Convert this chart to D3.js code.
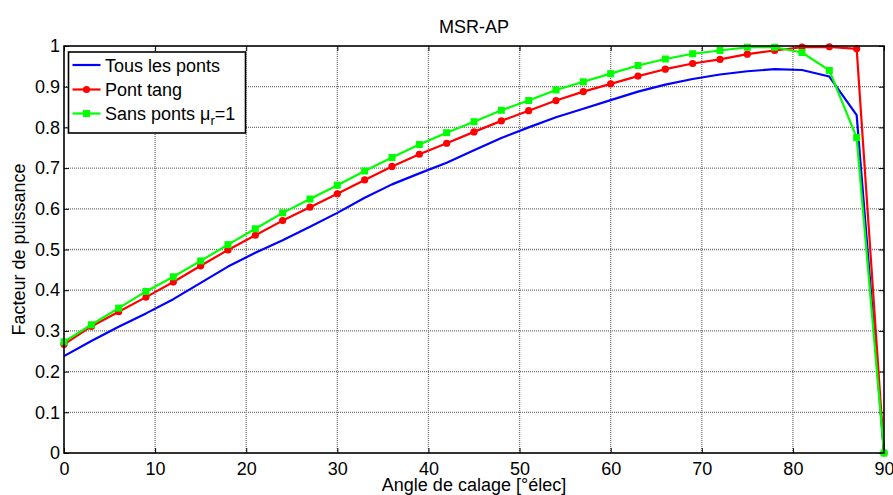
<!DOCTYPE html>
<html><head><meta charset="utf-8">
<script src="https://cdn.jsdelivr.net/npm/d3@7"></script>
<style>body{margin:0;background:#fff}svg{display:block}text{font-family:"Liberation Sans",Arial,sans-serif}</style>
</head><body>
<svg id="c" width="893" height="495"></svg>
<script>
const angles = [0,3,6,9,12,15,18,21,24,27,30,33,36,39,42,45,48,51,54,57,60,63,66,69,72,75,78,81,84,87,90];
const tous = [0.238,0.275,0.310,0.343,0.378,0.418,0.458,0.492,0.523,0.556,0.590,0.627,0.660,0.687,0.713,0.744,0.774,0.800,0.825,0.846,0.867,0.888,0.905,0.919,0.930,0.938,0.943,0.941,0.925,0.830,0.0];
const pontTang = [0.267,0.311,0.347,0.383,0.420,0.460,0.499,0.535,0.571,0.604,0.637,0.671,0.704,0.734,0.761,0.789,0.816,0.841,0.866,0.888,0.907,0.926,0.943,0.957,0.967,0.980,0.989,0.997,0.998,0.993,0.0];
const sansPonts = [0.273,0.315,0.356,0.397,0.433,0.472,0.512,0.551,0.590,0.624,0.658,0.693,0.726,0.758,0.787,0.814,0.842,0.866,0.892,0.912,0.932,0.952,0.968,0.981,0.989,0.997,0.997,0.984,0.940,0.775,0.0];
const xTicks = [0,10,20,30,40,50,60,70,80,90];
const yTicks = [0,0.1,0.2,0.3,0.4,0.5,0.6,0.7,0.8,0.9,1];
const yTickLabels = ["0","0.1","0.2","0.3","0.4","0.5","0.6","0.7","0.8","0.9","1"];
const seriesNames = ["Tous les ponts","Pont tang","Sans ponts"];
const colors = ["#0000ff","#ff0000","#00ff00"];

const svg = d3.select("#c");
const L=64,R=884,T=46,B=453;
const x = d3.scaleLinear().domain([0,90]).range([L,R]);
const y = d3.scaleLinear().domain([0,1]).range([B,T]);

// grid
const g = svg.append("g");
g.selectAll(".gx").data(xTicks.slice(1,-1)).enter().append("line")
 .attr("x1",d=>x(d)).attr("x2",d=>x(d)).attr("y1",T).attr("y2",B)
 .attr("stroke","#707070").attr("stroke-width",1.3).attr("stroke-dasharray","1,1");
g.selectAll(".gy").data(yTicks.slice(1,-1)).enter().append("line")
 .attr("y1",d=>y(d)).attr("y2",d=>y(d)).attr("x1",L).attr("x2",R)
 .attr("stroke","#707070").attr("stroke-width",1.3).attr("stroke-dasharray","1,1");

// axes
const fmt = (d)=>yTickLabels[yTicks.indexOf(d)];
svg.append("g").attr("transform",`translate(0,${B})`)
 .call(d3.axisBottom(x).tickValues(xTicks).tickSize(-5).tickPadding(9).tickFormat(d3.format("d")))
 .call(a=>{a.select(".domain").remove();a.selectAll("text").attr("font-size",18).attr("fill","#000");a.selectAll("line").attr("stroke","#000");});
svg.append("g").attr("transform",`translate(0,${T})`)
 .call(d3.axisTop(x).tickValues(xTicks).tickSize(-5).tickFormat(""))
 .call(a=>{a.select(".domain").remove();a.selectAll("line").attr("stroke","#000");});
svg.append("g").attr("transform",`translate(${L},0)`)
 .call(d3.axisLeft(y).tickValues(yTicks).tickSize(-5).tickPadding(4).tickFormat(fmt))
 .call(a=>{a.select(".domain").remove();a.selectAll("text").attr("font-size",18).attr("fill","#000");a.selectAll("line").attr("stroke","#000");});
svg.append("g").attr("transform",`translate(${R},0)`)
 .call(d3.axisRight(y).tickValues(yTicks).tickSize(-5).tickFormat(""))
 .call(a=>{a.select(".domain").remove();a.selectAll("line").attr("stroke","#000");});

const line = d3.line().x((d,i)=>x(angles[i])).y(d=>y(d));
const data=[tous,pontTang,sansPonts];
data.forEach((s,k)=>{
  svg.append("path").datum(s).attr("d",line).attr("fill","none").attr("stroke",colors[k]).attr("stroke-width",2.2).attr("stroke-linejoin","round");
});
svg.selectAll(".mr").data(pontTang).enter().append("circle")
 .attr("cx",(d,i)=>x(angles[i])).attr("cy",d=>y(d)).attr("r",3.6).attr("fill",colors[1]);
svg.selectAll(".mg").data(sansPonts).enter().append("rect")
 .attr("x",(d,i)=>x(angles[i])-3.5).attr("y",d=>y(d)-3.5).attr("width",7).attr("height",7).attr("fill",colors[2]);

// frame
svg.append("rect").attr("x",L).attr("y",T).attr("width",R-L).attr("height",B-T).attr("fill","none").attr("stroke","#000").attr("stroke-width",1.6);

// title & labels
svg.append("text").attr("x",474).attr("y",33).attr("text-anchor","middle").attr("font-size",18).text("MSR-AP");
svg.append("text").attr("x",474).attr("y",491).attr("text-anchor","middle").attr("font-size",18).text("Angle de calage [°élec]");
svg.append("text").attr("transform",`translate(25,${(T+B)/2}) rotate(-90)`).attr("text-anchor","middle").attr("font-size",18).text("Facteur de puissance");

// legend
const lg = svg.append("g");
lg.append("rect").attr("x",68.5).attr("y",52).attr("width",177).attr("height",81).attr("fill","#fff").attr("stroke","#000").attr("stroke-width",1.6);
const ly=[65,89.5,113.5];
seriesNames.forEach((n,k)=>{
  lg.append("line").attr("x1",72.5).attr("x2",100.5).attr("y1",ly[k]).attr("y2",ly[k]).attr("stroke",colors[k]).attr("stroke-width",2.2);
  const t = lg.append("text").attr("x",105).attr("y",ly[k]+6.5).attr("font-size",18).text(n);
  if(k===2){ t.append("tspan").text(" μ"); t.append("tspan").attr("font-size",13).attr("dy",5).text("r"); t.append("tspan").attr("dy",-5).text("=1"); }
});
lg.append("circle").attr("cx",86.5).attr("cy",ly[1]).attr("r",3.6).attr("fill",colors[1]);
lg.append("rect").attr("x",83).attr("y",ly[2]-3.5).attr("width",7).attr("height",7).attr("fill",colors[2]);
</script>
</body></html>
